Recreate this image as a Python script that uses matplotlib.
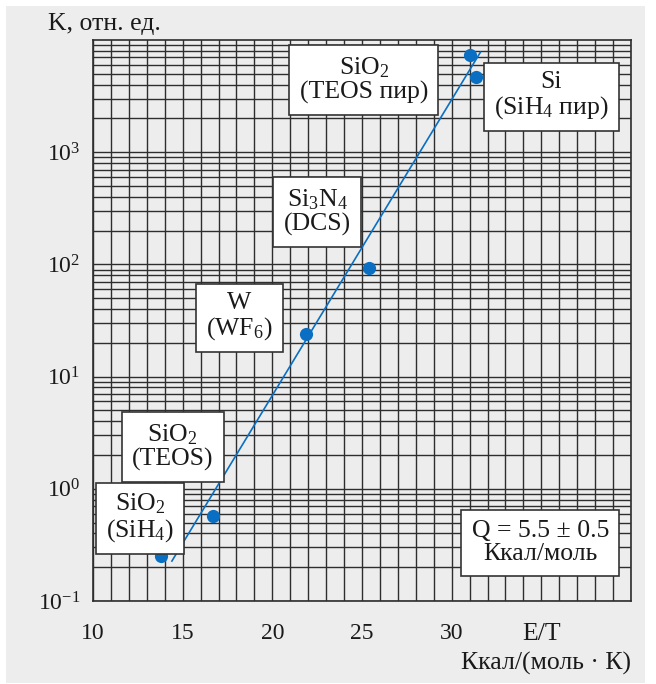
"""Arrhenius-type plot: relative rate K vs E/T with annotated CVD processes."""

import matplotlib
matplotlib.use("Agg")
import matplotlib.pyplot as plt
from matplotlib.patches import Rectangle
from matplotlib.ticker import MultipleLocator, LogLocator, NullFormatter

# Measured points (E/T, K)
energies = [13.8, 16.7, 21.9, 25.4, 31.0, 31.35]
rates = [0.25, 0.57, 24, 92, 7300, 4650]

# Fitted line end points
fit_energy = [14.4, 31.6]
fit_rate = [0.227, 7770]

# Process labels
labels = [
    "SiO$_2$\n(TEOS пир)",
    "Si\n(SiH$_4$ пир)",
    "Si$_3$N$_4$\n(DCS)",
    "W\n(WF$_6$)",
    "SiO$_2$\n(TEOS)",
    "SiO$_2$\n(SiH$_4$)",
    "Q = 5.5 ± 0.5\nКкал/моль",
]
x_ticks = [10, 15, 20, 25, 30, 35]
x_tick_labels = ["10", "15", "20", "25", "30", "E/T"]
y_exponents = [-1, 0, 1, 2, 3]


def main():
    plt.rcParams["font.family"] = ["Liberation Serif", "DejaVu Serif"]
    plt.rcParams["mathtext.fontset"] = "custom"
    plt.rcParams["mathtext.rm"] = "Liberation Serif"
    plt.rcParams["mathtext.it"] = "Liberation Serif:italic"

    bg = "#ededed"
    grid_c = "#2e2e2e"
    blue = "#0a6fc2"

    fig = plt.figure(figsize=(6.56, 6.84), dpi=100, facecolor="white")
    # gray panel behind everything
    fig.patches.append(Rectangle((6 / 656, 1 - 683 / 684), 639 / 656, 677 / 684,
                                 transform=fig.transFigure, facecolor=bg,
                                 edgecolor="none", zorder=-10))

    ax = fig.add_axes([93 / 656, 1 - 601 / 684, 538 / 656, 561 / 684])
    ax.set_facecolor(bg)
    ax.set_yscale("log")
    ax.set_xlim(10, 40)
    ax.set_ylim(1e-1, 1e4)

    ax.set_xticks(x_ticks, labels=x_tick_labels)
    ax.xaxis.set_minor_locator(MultipleLocator(1))
    ax.set_yticks([10.0 ** e for e in y_exponents],
                  labels=[f"$10^{{{e}}}$".replace("-", "−") for e in y_exponents])
    ax.yaxis.set_minor_locator(LogLocator(base=10, subs=range(2, 10)))
    ax.yaxis.set_minor_formatter(NullFormatter())

    ax.grid(True, which="both", color=grid_c, linewidth=1.0)
    ax.set_axisbelow(True)
    ax.tick_params(which="both", length=0, labelsize=17, colors="#1a1a1a")
    ax.tick_params(axis="x", pad=16)
    ax.tick_params(axis="y", pad=9)
    ax.get_xticklabels()[-1].set_fontsize(18.5)
    for s in ax.spines.values():
        s.set_color(grid_c)
        s.set_linewidth(1.2)

    ax.plot(fit_energy, fit_rate, color=blue, linewidth=1.2, zorder=3)
    ax.plot(energies, rates, "o", color=blue, markersize=9.5, zorder=4,
            markeredgewidth=0)

    # label centres in data coordinates
    label_pos = [(25.1, 4400), (35.55, 3160), (22.5, 293), (18.17, 34),
                 (14.44, 2.36), (12.61, 0.55), (34.94, 0.33)]
    for text, (x, y) in zip(labels, label_pos):
        ax.text(x, y, text, ha="center", va="center", multialignment="center",
                fontsize=18.5, linespacing=1.05, color="#1a1a1a", zorder=5,
                bbox=dict(boxstyle="square,pad=0.4", facecolor="white",
                          edgecolor="#333333", linewidth=1.2))

    fig.text(48 / 656, 1 - 24 / 684, "K, отн. ед.", fontsize=18.5,
             ha="left", va="center", color="#1a1a1a")
    fig.text(631 / 656, 1 - 663 / 684, "Ккал/(моль · К)", fontsize=18.5,
             ha="right", va="center", color="#1a1a1a")

    fig.savefig("out.png", dpi=100, facecolor="white")


if __name__ == "__main__":
    main()
